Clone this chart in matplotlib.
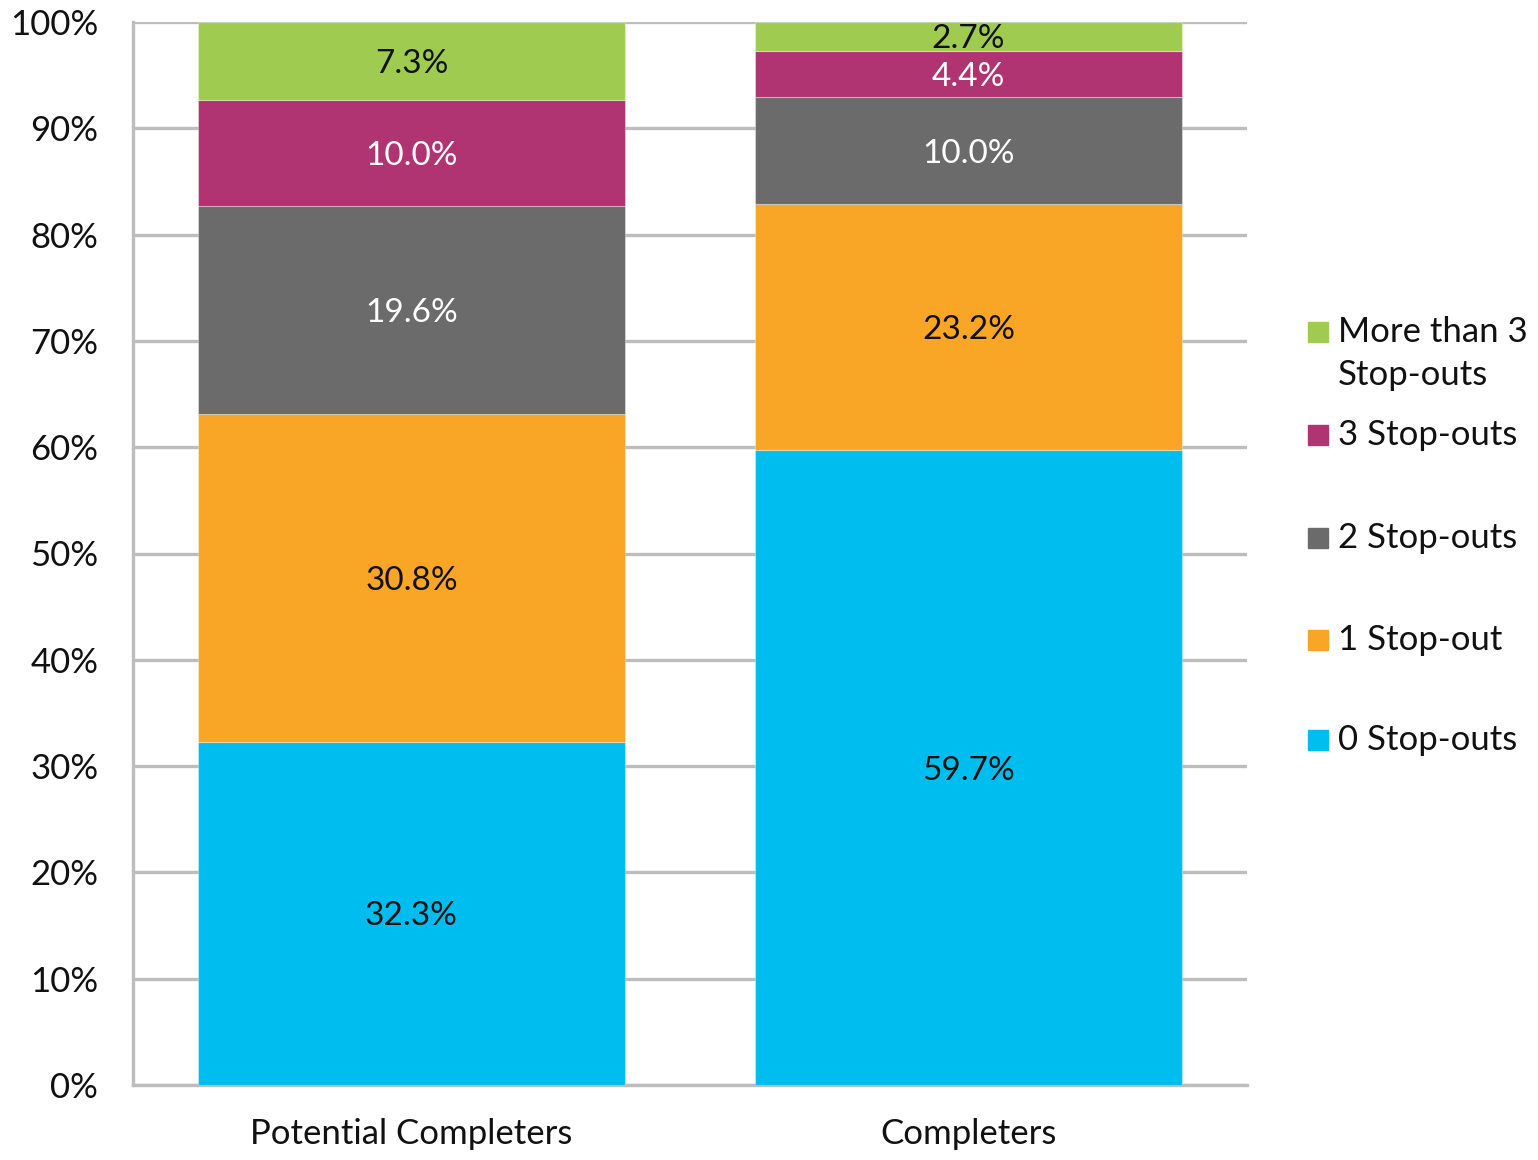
import matplotlib
matplotlib.use("Agg")
import matplotlib.pyplot as plt
from matplotlib.patches import Rectangle
import numpy as np

plt.rcParams['font.family'] = ['Lato', 'DejaVu Sans']

categories = ["Potential Completers", "Completers"]
series_names = ["0 Stop-outs", "1 Stop-out", "2 Stop-outs", "3 Stop-outs", "More than 3\nStop-outs"]
values = {
    "0 Stop-outs": [32.3, 59.7],
    "1 Stop-out": [30.8, 23.2],
    "2 Stop-outs": [19.6, 10.0],
    "3 Stop-outs": [10.0, 4.4],
    "More than 3\nStop-outs": [7.3, 2.7],
}
colors = ["#00BDF0", "#F9A526", "#6B6B6B", "#B03472", "#9FCB50"]
label_colors = ["#111111", "#111111", "white", "white", "#111111"]
yticks = [0, 10, 20, 30, 40, 50, 60, 70, 80, 90, 100]

W, H = 1538, 1160
FS = 25
fig = plt.figure(figsize=(W / 100, H / 100), dpi=100)
ax = fig.add_axes([133 / W, 1 - 1085 / H, (1247 - 133) / W, (1085 - 22) / H])

x = np.arange(len(categories))
bottom = np.zeros(len(categories))
for name, col, lc in zip(series_names, colors, label_colors):
    v = np.array(values[name])
    ax.bar(x, v, bottom=bottom, width=0.766, color=col, edgecolor=(1, 1, 1, 0.35),
           linewidth=0.8, zorder=3)
    for xi, vi, bi in zip(x, v, bottom):
        ax.text(xi, bi + vi / 2, f"{vi:.1f}%", ha="center", va="center_baseline",
                color=lc, fontsize=FS - 1, zorder=4)
    bottom += v

ax.set_xlim(-0.5, 1.5)
ax.set_ylim(0, 100)
ax.set_yticks(yticks)
ax.set_yticklabels([f"{t}%" for t in yticks], fontsize=FS, color="#111111")
ax.set_xticks(x)
ax.set_xticklabels(categories, fontsize=FS, color="#111111")
ax.tick_params(axis="both", length=0)
ax.tick_params(axis="y", pad=25)
ax.tick_params(axis="x", pad=24)
ax.yaxis.grid(True, color="#BDBDBD", linewidth=2.4, zorder=0)
ax.set_axisbelow(True)
for s in ["top", "right"]:
    ax.spines[s].set_visible(False)
for s in ["left", "bottom"]:
    ax.spines[s].set_color("#BDBDBD")
    ax.spines[s].set_linewidth(2.4)

# legend (manual, Excel-like layout)
legend_order = list(reversed(series_names))
legend_colors = list(reversed(colors))
legend_y = [332, 435, 538, 640, 740]
for name, col, yy in zip(legend_order, legend_colors, legend_y):
    fig.add_artist(Rectangle((1308 / W, 1 - (yy + 10) / H), 20 / W, 20 / H,
                             transform=fig.transFigure, color=col))
    lines = name.split("\n")
    for i, ln in enumerate(lines):
        fig.text(1338 / W, 1 - (yy + i * 43) / H, ln, ha="left", va="center",
                 fontsize=FS, color="#111111")

fig.savefig("out.png", dpi=100)
